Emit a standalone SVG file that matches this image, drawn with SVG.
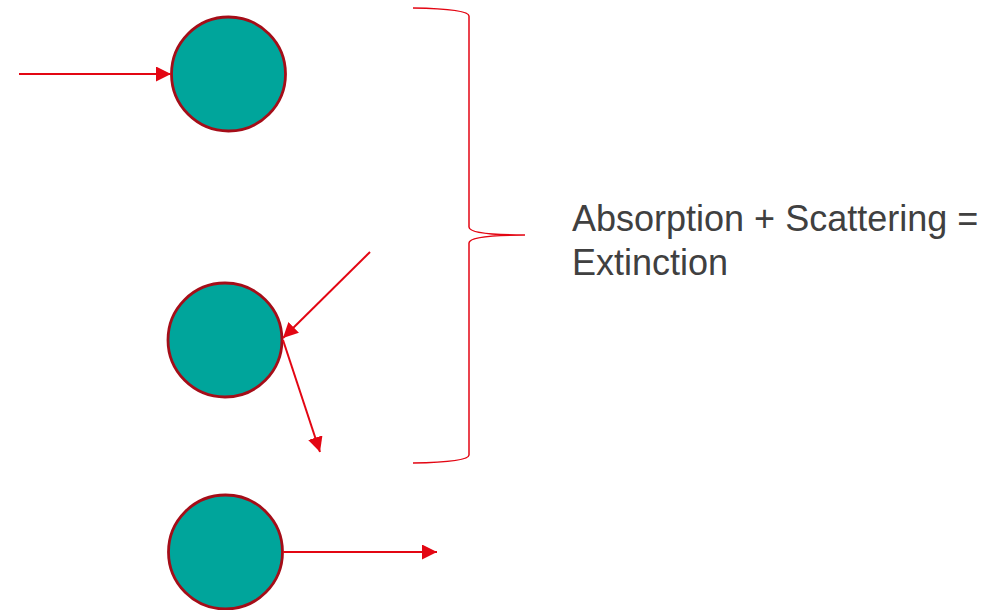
<svg xmlns="http://www.w3.org/2000/svg" width="994" height="610" viewBox="0 0 994 610">
<style>
.node{fill:#00a59b;stroke:#a50d18;stroke-width:2.8}
.arr{stroke:#e30613;stroke-width:2;fill:none;marker-end:url(#ah)}
.brace{stroke:#e30613;stroke-width:1.5;fill:none}
.lbl{font-family:"Liberation Sans",Arial,sans-serif;font-size:36px;fill:#404040}
</style>
<defs>
<marker id="ah" viewBox="0 0 10 10" refX="10" refY="5" markerWidth="7.5" markerHeight="7.5" markerUnits="strokeWidth" orient="auto">
<path d="M0,0 L10,5 L0,10 Z" fill="#e30613"/>
</marker>
</defs>
<rect width="994" height="610" fill="#fff"/>
<g id="particle1"><circle class="node" cx="228.5" cy="74" r="57"/></g>
<g id="particle2"><circle class="node" cx="225" cy="340" r="57"/></g>
<g id="particle3"><circle class="node" cx="225.5" cy="552" r="57"/></g>
<g id="connectors">
<line class="arr" x1="19" y1="74" x2="171" y2="74"/>
<line class="arr" x1="370" y1="252" x2="283" y2="338"/>
<line class="arr" x1="283" y1="340" x2="320" y2="452"/>
<line class="arr" x1="283" y1="552" x2="437" y2="552"/>
</g>
<g id="brace">
<path class="brace" d="M413,8 Q469,9 469,16 L469,227 Q469,235 525,235 Q469,235 469,243 L469,455 Q469,462 413,463"/>
</g>
<g id="label">
<text class="lbl" x="572" y="231">Absorption + Scattering =</text>
<text class="lbl" x="572" y="275">Extinction</text>
</g>
</svg>
